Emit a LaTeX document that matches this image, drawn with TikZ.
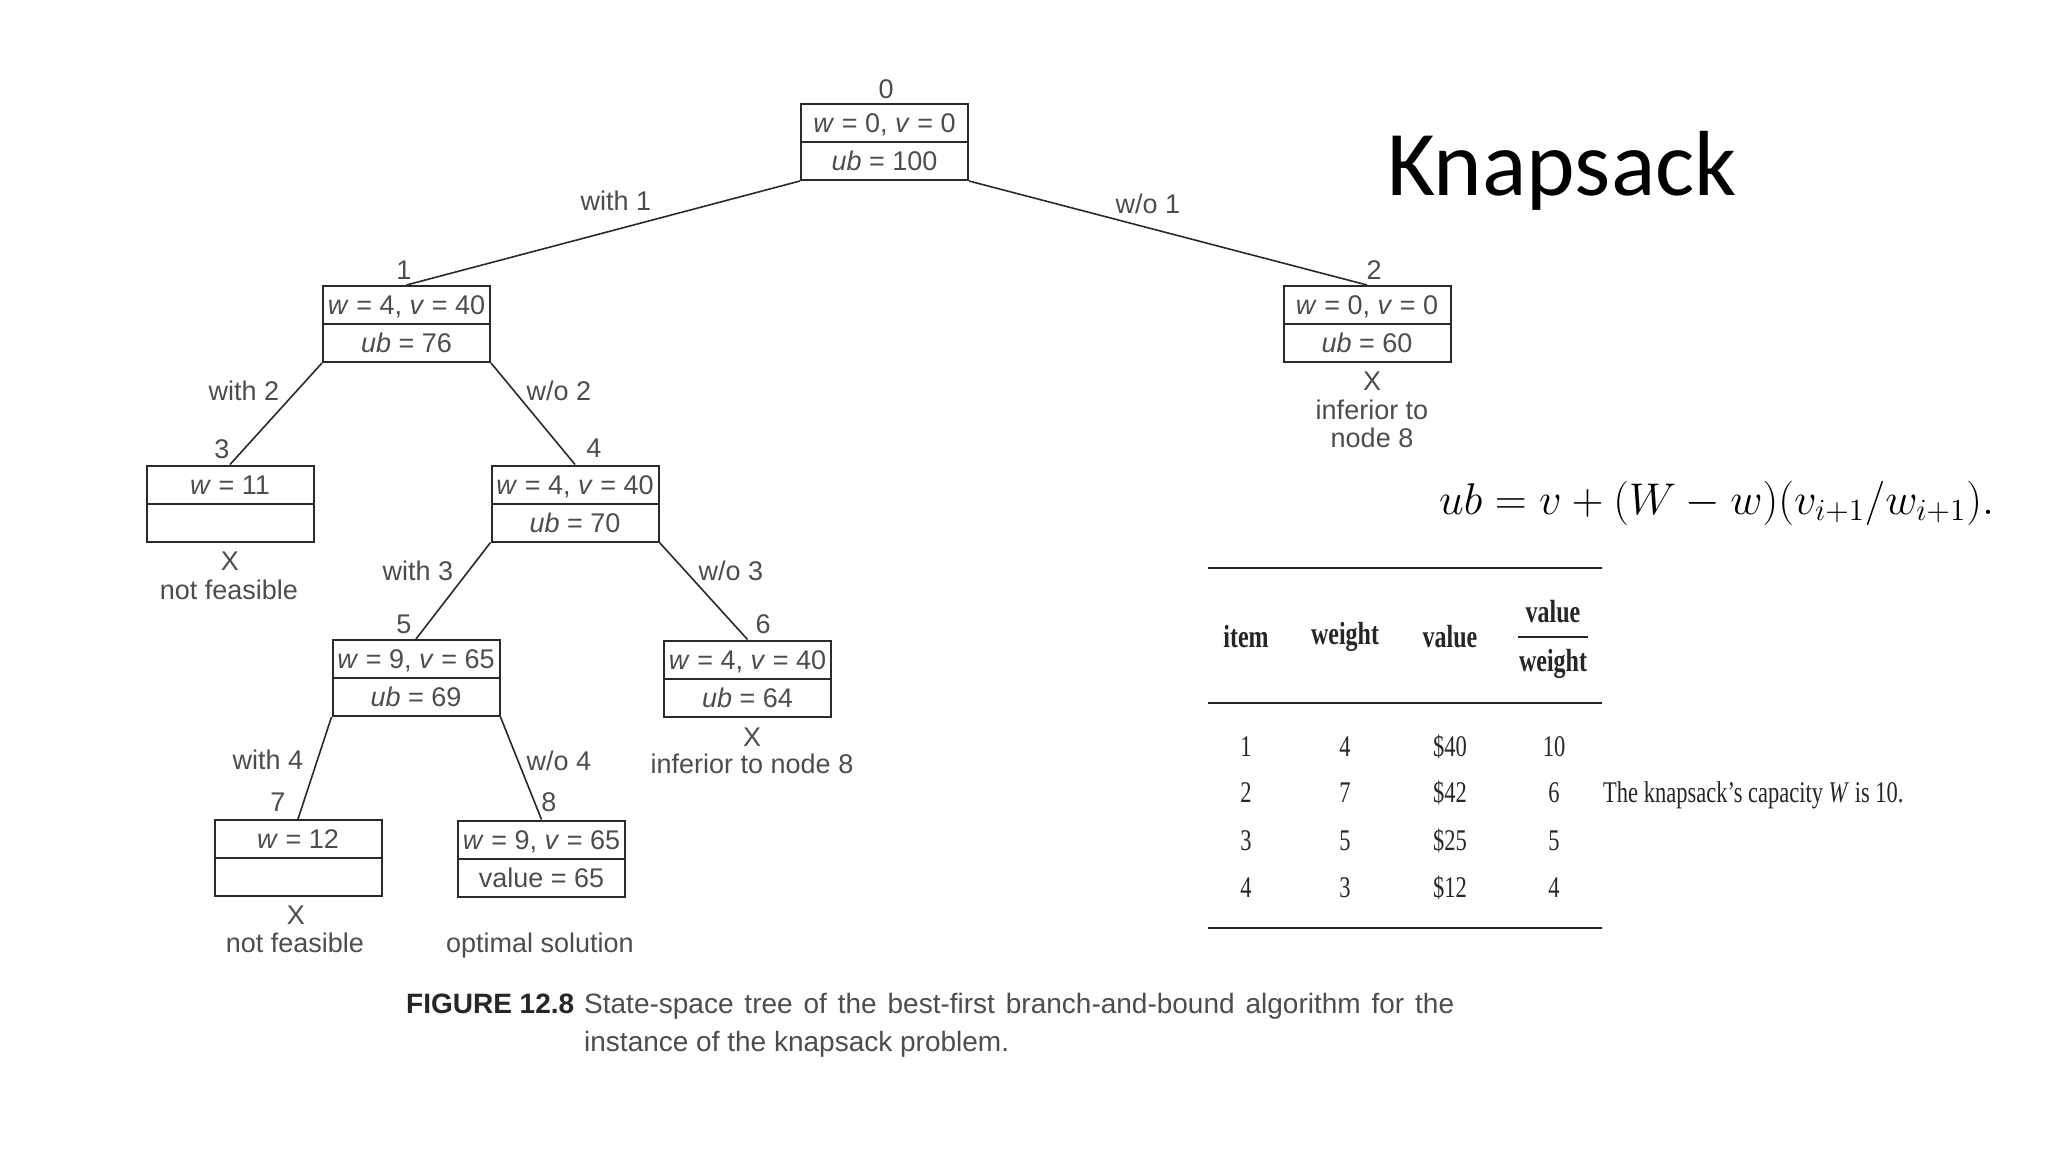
\documentclass[tikz,border=0pt]{standalone}
\usepackage{fontspec}
\usepackage{graphicx}
\newfontfamily\treefont{Liberation Sans}
\newfontfamily\titlefont{Carlito}
\newfontfamily\tabfont[FakeStretch=0.75]{Liberation Serif}
\newfontfamily\capfont{Liberation Sans}
\definecolor{txtgray}{HTML}{4D4D4D}
\definecolor{linegray}{HTML}{2A2A2A}
\newcommand\bbbox[8]{%
  \node[bx] (#1) at (#2,#3) {};
  \draw[divline] (#1.west) -- (#1.east);
  \node[tt] (#1t) at (#2,#3-19) {#4};
  \node[tt] (#1b) at (#2,#3+19) {#5};
  \node[tt] (#1l) at (#6,#7) {#8};
}
\begin{document}
\begin{tikzpicture}[x=1pt,y=-1pt,
  bx/.style={draw=linegray, line width=2pt, minimum width=167pt, minimum height=76pt, inner sep=0pt},
  divline/.style={draw=linegray, line width=2pt},
  tt/.style={inner sep=0pt, text=txtgray, font=\treefont\fontsize{27}{32}\selectfont, text height=19.5pt, text depth=0pt},
  conn/.style={draw=linegray, line width=1.6pt},
  tab/.style={inner sep=0pt, font=\tabfont\fontsize{30}{36}\selectfont, text=black!85, text height=20pt, text depth=0pt},
  tabh/.style={inner sep=0pt, font=\tabfont\bfseries\fontsize{32}{38}\selectfont, text=black!85},
  rule/.style={draw=black!85, line width=2.6pt}
]
\useasboundingbox[fill=white] (0,0) rectangle (2048,1152);

% tree boxes
\bbbox{n0}{884.5}{142}{\textit{w} = 0, \textit{v} = 0}{\textit{ub} = 100}{886}{89}{0}
\bbbox{n1}{406.5}{324}{\textit{w} = 4, \textit{v} = 40}{\textit{ub} = 76}{404}{270}{1}
\bbbox{n2}{1367}{324}{\textit{w} = 0, \textit{v} = 0}{\textit{ub} = 60}{1374}{270}{2}
\bbbox{n3}{230}{503.5}{\textit{w} = 11}{}{222}{449}{3}
\bbbox{n4}{575}{503.5}{\textit{w} = 4, \textit{v} = 40}{\textit{ub} = 70}{594}{448}{4}
\bbbox{n5}{416}{678}{\textit{w} = 9, \textit{v} = 65}{\textit{ub} = 69}{404}{624}{5}
\bbbox{n6}{747.5}{678.5}{\textit{w} = 4, \textit{v} = 40}{\textit{ub} = 64}{763}{624}{6}
\bbbox{n7}{298}{858}{\textit{w} = 12}{}{278}{802}{7}
\bbbox{n8}{541.5}{858.5}{\textit{w} = 9, \textit{v} = 65}{value = 65}{549}{802}{8}

% connectors
\draw[conn] (n0.south west) -- (n1.north);
\draw[conn] (n0.south east) -- (n2.north);
\draw[conn] (n1.south west) -- (n3.north);
\draw[conn] (n1.south east) -- (n4.north);
\draw[conn] (n4.south west) -- (n5.north);
\draw[conn] (n4.south east) -- (n6.north);
\draw[conn] (n5.south west) -- (n7.north);
\draw[conn] (n5.south east) -- (n8.north);

% edge labels
\node[tt] (e01) at (616,201) {with 1};
\node[tt] (e02) at (1148,204) {w/o 1};
\node[tt] (e13) at (244,391) {with 2};
\node[tt] (e14) at (559,391) {w/o 2};
\node[tt] (e45) at (418,571) {with 3};
\node[tt] (e46) at (731,571) {w/o 3};
\node[tt] (e57) at (268,760) {with 4};
\node[tt] (e58) at (559,761) {w/o 4};

% annotations
\node[tt] (x2) at (1372,381) {X};
\node[tt] (a2a) at (1372,410) {inferior to};
\node[tt] (a2b) at (1372,438) {node 8};
\node[tt] (x3) at (230,561) {X};
\node[tt] (a3) at (229,590) {not feasible};
\node[tt] (x6) at (752,737) {X};
\node[tt] (a6) at (752,764) {inferior to node 8};
\node[tt] (x7) at (296,915) {X};
\node[tt] (a7) at (295,943) {not feasible};
\node[tt] (a8) at (540,943) {optimal solution};

% caption
\node[anchor=base west, inner sep=0pt, font=\capfont\bfseries\fontsize{28}{34}\selectfont, text=black!85] (figlab) at (406,1013) {FIGURE 12.8};
\node[anchor=base west, inner sep=0pt, font=\capfont\fontsize{28}{34}\selectfont, text=txtgray] (cap1) at (584,1013) {\makebox[870pt][s]{State-space tree of the best-first branch-and-bound algorithm for the}};
\node[anchor=base west, inner sep=0pt, font=\capfont\fontsize{28}{34}\selectfont, text=txtgray] (cap2) at (584,1051) {instance of the knapsack problem.};

% title
\node[anchor=base west, inner sep=0pt, font=\titlefont\fontsize{92.5}{104}\selectfont] (title) at (1387,195) {Knapsack};

% formula
\node[anchor=west, inner sep=0pt, text=black] (formula) at (1439,503) {\scalebox{2.14}{\fontsize{20.74}{25}\selectfont $ub = v + (W - w)(v_{i+1}/w_{i+1}).$}};

% table
\draw[rule] (1208,568) -- (1602,568);
\draw[rule] (1208,703) -- (1602,703);
\draw[rule] (1208,928) -- (1602,928);
\node[tabh] (h1) at (1246,637) {item};
\node[tabh] (h2) at (1345,637) {weight};
\node[tabh] (h3) at (1450,637) {value};
\node[tabh] (h4n) at (1553,612) {value};
\node[tabh] (h4d) at (1553,664) {weight};
\draw[draw=black!85, line width=2.4pt] (1518,637) -- (1588,637);

\foreach \r/\yy/\w/\v/\q in {1/746/4/40/10, 2/792/7/42/6, 3/840/5/25/5, 4/887/3/12/4}{
  \node[tab] (i\r) at (1246,\yy) {\r};
  \node[tab] (w\r) at (1345,\yy) {\w};
  \node[tab] (v\r) at (1450,\yy) {\$\v};
  \node[tab] (q\r) at (1554,\yy) {\q};
}
\node[anchor=west, inner sep=0pt, font=\tabfont\fontsize{30}{36}\selectfont, text=black!85] (capac) at (1603,795) {The knapsack’s capacity \textit{W} is 10.};
\end{tikzpicture}
\end{document}
